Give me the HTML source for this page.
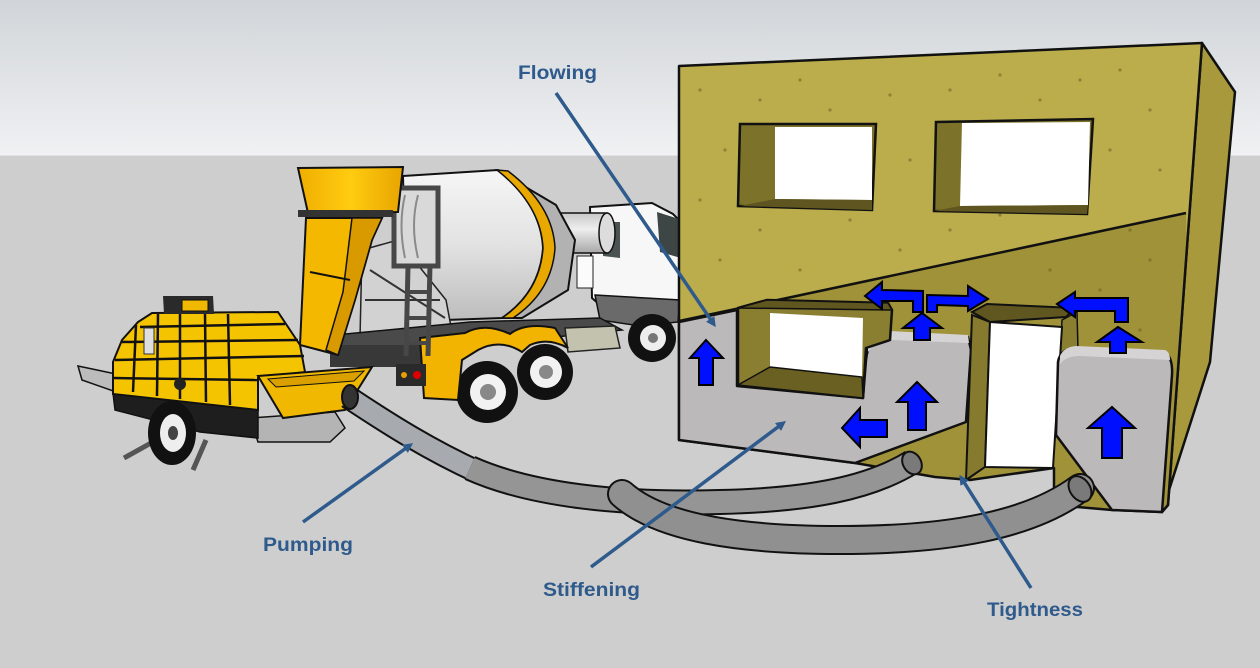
<!DOCTYPE html>
<html><head><meta charset="utf-8"><style>
html,body{margin:0;padding:0;background:#cecece;}
svg{display:block;}
text{font-family:"Liberation Sans",sans-serif;font-weight:bold;fill:#2f5a8c;font-size:19.5px;}
</style></head><body>
<svg width="1260" height="668" viewBox="0 0 1260 668" xmlns="http://www.w3.org/2000/svg">
<defs>
 <linearGradient id="sky" x1="0" y1="0" x2="0" y2="1">
  <stop offset="0" stop-color="#d1d5d9"/><stop offset="1" stop-color="#f0f1f3"/>
 </linearGradient>
 <linearGradient id="gold" x1="0" y1="0" x2="1" y2="0">
  <stop offset="0" stop-color="#f0ae00"/><stop offset="0.5" stop-color="#ffcc10"/><stop offset="1" stop-color="#e8a400"/>
 </linearGradient>
 <linearGradient id="drum" x1="0" y1="0" x2="0" y2="1">
  <stop offset="0" stop-color="#f6f6f6"/><stop offset="0.5" stop-color="#e2e2e2"/><stop offset="1" stop-color="#bdbdbd"/>
 </linearGradient>
 <linearGradient id="cyl" x1="0" y1="0" x2="0" y2="1">
  <stop offset="0" stop-color="#c8c8c8"/><stop offset="0.4" stop-color="#eeeeee"/><stop offset="1" stop-color="#a8a8a8"/>
 </linearGradient>
 <clipPath id="front">
  <polygon points="679,66 1202,43 1168,505 1162,512 1112,510 1054,505 1054,468 970,480 935,477 855,463 679,440"/>
 </clipPath>
 <marker id="ah" markerWidth="10" markerHeight="10" refX="5" refY="5" orient="auto" markerUnits="userSpaceOnUse" viewBox="0 0 10 10">
  <path d="M0,0 L10,5 L0,10 Z" fill="#2f5a8c"/>
 </marker>
</defs>

<!-- background -->
<rect x="0" y="0" width="1260" height="155" fill="url(#sky)"/>
<rect x="0" y="155" width="1260" height="513" fill="#cecece"/>
<line x1="0" y1="155.5" x2="1260" y2="155.5" stroke="#e2e2e2" stroke-width="1"/>

<!-- ===== TRUCK ===== -->
<!-- cab -->
<polygon points="590,207 652,203 673,214 681,222 681,300 600,305 592,298" fill="#f7f7f7" stroke="#111" stroke-width="2"/>
<polygon points="657,212 679,219 681,258 660,252" fill="#3d4545"/>
<polygon points="603,222 620,222 620,258 603,256" fill="#4a5252"/>
<polygon points="595,295 680,300 678,322 640,326 600,320" fill="#6a6a6a" stroke="#111" stroke-width="1.5"/>
<circle cx="652" cy="338" r="24" fill="#111"/>
<circle cx="653" cy="338" r="13" fill="#eeeeee"/>
<circle cx="653" cy="338" r="5" fill="#777"/>
<!-- cylinder tank -->
<rect x="557" y="213" width="50" height="40" fill="url(#cyl)" stroke="#111" stroke-width="1.5"/>
<ellipse cx="607" cy="233" rx="8" ry="20" fill="#dcdcdc" stroke="#111" stroke-width="1.5"/>
<rect x="577" y="256" width="16" height="32" fill="#fbfbfb" stroke="#222" stroke-width="1"/>
<!-- cone -->
<polygon points="500,172 556,205 575,240 568,290 522,318 495,318" fill="#b2b2b2" stroke="#111" stroke-width="2"/>
<!-- drum -->
<path d="M403,176 L498,170 Q541,205 543,248 Q540,292 502,318 L445,320 Q415,300 405,260 Z" fill="url(#drum)" stroke="#111" stroke-width="2"/>
<path d="M497,170 L508,171 Q553,205 555,248 Q552,292 513,318 L502,318 Q540,292 543,248 Q541,205 497,170 Z" fill="#e9a800" stroke="#111" stroke-width="1.5"/>
<!-- support structure -->
<polygon points="362,250 398,240 446,300 452,332 360,338" fill="#d2d2d2" stroke="#222" stroke-width="1.5"/>
<line x1="370" y1="270" x2="445" y2="318" stroke="#333" stroke-width="2"/>
<line x1="365" y1="300" x2="440" y2="300" stroke="#333" stroke-width="2"/>
<!-- chassis -->
<polygon points="335,335 470,322 600,318 622,330 470,346 400,352 335,354" fill="#4a4a4a" stroke="#111" stroke-width="1.5"/>
<rect x="330" y="345" width="92" height="22" fill="#383838"/>
<!-- fuel tank -->
<polygon points="565,328 615,326 620,348 568,352" fill="#c2c2ae" stroke="#222" stroke-width="1.5"/>
<!-- rear wheels -->
<circle cx="545" cy="372" r="28" fill="#111"/>
<circle cx="546" cy="372" r="16" fill="#f2f2f2"/>
<circle cx="546" cy="372" r="7" fill="#888"/>
<circle cx="487" cy="392" r="31" fill="#111"/>
<circle cx="488" cy="392" r="18" fill="#f2f2f2"/>
<circle cx="488" cy="392" r="8" fill="#888"/>
<!-- fenders -->
<path d="M420,338 L465,333 Q485,322 510,334 Q525,322 555,328 L568,348 Q548,337 530,345 L522,352 Q500,338 478,350 L462,360 L458,400 L424,398 Z" fill="#f2b400" stroke="#111" stroke-width="2"/>
<rect x="396" y="364" width="30" height="22" fill="#2a2a2a"/>
<circle cx="404" cy="375" r="3" fill="#e8a000"/>
<circle cx="417" cy="375" r="4" fill="#e00000"/>
<!-- ladder -->
<rect x="394" y="188" width="44" height="78" fill="#d9d9d9" stroke="#474747" stroke-width="5"/>
<path d="M405,195 Q398,225 405,258 M418,195 Q410,225 418,258" stroke="#8a8a8a" stroke-width="2" fill="none"/>
<line x1="408" y1="266" x2="406" y2="356" stroke="#474747" stroke-width="5"/>
<line x1="430" y1="264" x2="428" y2="356" stroke="#474747" stroke-width="5"/>
<line x1="407" y1="292" x2="429" y2="292" stroke="#474747" stroke-width="4"/>
<line x1="407" y1="318" x2="429" y2="318" stroke="#474747" stroke-width="4"/>
<line x1="406" y1="343" x2="428" y2="343" stroke="#474747" stroke-width="4"/>
<!-- funnel -->
<polygon points="298,168 403,167 398,212 308,213" fill="url(#gold)" stroke="#111" stroke-width="2"/>
<rect x="298" y="210" width="95" height="7" fill="#333"/>
<polygon points="306,218 382,218 372,240 355,300 338,355 300,345" fill="#f5b800" stroke="#111" stroke-width="2"/>
<polygon points="352,218 382,218 372,240 355,300 338,355 326,350 343,292" fill="#d99a00" stroke="#111" stroke-width="1.5"/>
<line x1="310" y1="272" x2="350" y2="280" stroke="#111" stroke-width="2"/>

<!-- ===== PUMP ===== -->
<polygon points="78,366 116,374 116,392 82,380" fill="#bcbcbc" stroke="#111" stroke-width="1.5"/>
<polygon points="250,418 335,412 345,428 330,442 258,442" fill="#b4b4b4" stroke="#111" stroke-width="1.5"/>
<line x1="160" y1="438" x2="124" y2="458" stroke="#555" stroke-width="5"/>
<line x1="206" y1="440" x2="193" y2="470" stroke="#555" stroke-width="5"/>
<polygon points="113,393 258,410 258,438 200,432 115,410" fill="#1e1e1e" stroke="#111" stroke-width="1.5"/>
<polygon points="113,394 113,362 122,340 138,322 152,313 278,312 300,345 305,372 258,378 258,410" fill="#f5c400" stroke="#111" stroke-width="2"/>
<g stroke="#111" stroke-width="2.5">
 <line x1="140" y1="327" x2="285" y2="324"/>
 <line x1="122" y1="342" x2="298" y2="340"/>
 <line x1="115" y1="360" x2="304" y2="356"/>
 <line x1="113" y1="378" x2="258" y2="380"/>
 <line x1="136" y1="325" x2="133" y2="392"/>
 <line x1="158" y1="314" x2="157" y2="396"/>
 <line x1="180" y1="314" x2="180" y2="399"/>
 <line x1="205" y1="314" x2="206" y2="402"/>
 <line x1="228" y1="314" x2="230" y2="405"/>
</g>
<rect x="144" y="328" width="10" height="26" fill="#dedede" stroke="#333" stroke-width="1"/>
<circle cx="180" cy="384" r="6" fill="#222"/>
<polygon points="163,296 213,296 214,314 164,314" fill="#2a2a2a"/>
<rect x="182" y="300" width="26" height="11" fill="#f0b800" stroke="#111" stroke-width="1"/>
<ellipse cx="172" cy="433" rx="24" ry="32" fill="#111"/>
<ellipse cx="173" cy="433" rx="13" ry="19" fill="#eeeeee"/>
<ellipse cx="173" cy="433" rx="5" ry="7" fill="#444"/>
<!-- pump hopper -->
<polygon points="258,376 372,367 345,410 283,418" fill="#f0b800" stroke="#111" stroke-width="2"/>
<polygon points="268,379 364,371 354,381 276,387" fill="#d9a000" stroke="#111" stroke-width="1"/>

<!-- ===== BUILDING ===== -->
<polygon points="1202,43 1235,92 1210,362 1162,512 1168,505" fill="#a7993c" stroke="#111" stroke-width="2.5" stroke-linejoin="round"/>
<polygon points="679,66 1202,43 1168,505 1162,512 1112,510 1054,505 1054,468 970,480 935,477 855,463 679,440" fill="#bbad4c"/>
<g clip-path="url(#front)">
 <polygon points="679,321 1186,213 1190,520 679,520" fill="#9f9238"/>
 <g fill="#6b5e20" opacity="0.55">
  <circle cx="700" cy="90" r="1.6"/><circle cx="725" cy="150" r="1.6"/><circle cx="760" cy="100" r="1.6"/>
  <circle cx="800" cy="80" r="1.6"/><circle cx="830" cy="110" r="1.6"/><circle cx="890" cy="95" r="1.6"/>
  <circle cx="910" cy="160" r="1.6"/><circle cx="950" cy="90" r="1.6"/><circle cx="1000" cy="75" r="1.6"/>
  <circle cx="1040" cy="100" r="1.6"/><circle cx="1080" cy="80" r="1.6"/><circle cx="1120" cy="70" r="1.6"/>
  <circle cx="1150" cy="110" r="1.6"/><circle cx="1110" cy="150" r="1.6"/><circle cx="1160" cy="170" r="1.6"/>
  <circle cx="700" cy="200" r="1.6"/><circle cx="720" cy="260" r="1.6"/><circle cx="760" cy="230" r="1.6"/>
  <circle cx="800" cy="270" r="1.6"/><circle cx="850" cy="220" r="1.6"/><circle cx="900" cy="250" r="1.6"/>
  <circle cx="950" cy="230" r="1.6"/><circle cx="1000" cy="215" r="1.6"/><circle cx="1050" cy="200" r="1.6"/>
  <circle cx="1130" cy="230" r="1.6"/><circle cx="1150" cy="260" r="1.6"/><circle cx="1100" cy="290" r="1.6"/>
  <circle cx="1050" cy="270" r="1.6"/><circle cx="1140" cy="330" r="1.6"/><circle cx="980" cy="300" r="1.6"/>
 </g>
 <line x1="679" y1="321" x2="1186" y2="213" stroke="#111" stroke-width="2.5"/>
</g>
<polygon points="679,66 1202,43 1168,505 1162,512 1112,510 1054,505 1054,468 970,480 935,477 855,463 679,440" fill="none" stroke="#111" stroke-width="2.5" stroke-linejoin="round"/>

<!-- upper windows -->
<polygon points="740,124 876,124 872,210 738,206" fill="#7d722a" stroke="#111" stroke-width="2.5"/>
<polygon points="775,127 872,127 872,200 775,199" fill="#ffffff"/>
<polygon points="775,199 872,200 872,210 740,206" fill="#5e5520"/>
<polygon points="936,122 1093,119 1087,214 934,211" fill="#7d722a" stroke="#111" stroke-width="2.5"/>
<polygon points="962,123 1090,122 1088,205 960,206" fill="#ffffff"/>
<polygon points="960,206 1088,205 1087,214 934,211" fill="#5e5520"/>

<!-- concrete left+middle -->
<path d="M679,322 L737,310 L737,386 L863,398 L866,360 Q868,336 890,333 L968,337 L971,350 L966,422 L855,463 L679,440 Z" fill="#bcb9bb" stroke="#111" stroke-width="2.5" stroke-linejoin="round"/>
<path d="M868,345 Q872,332 890,331 L968,335 L969,343 L892,340 Q876,341 868,352 Z" fill="#d6d3d4"/>
<!-- lower window box -->
<polygon points="738,308 767,300 888,303 892,310 890,340 866,348 863,398 738,385" fill="#8a7f30" stroke="#111" stroke-width="2.5" stroke-linejoin="round"/>
<polygon points="738,308 767,300 888,303 892,310" fill="#5f5620" stroke="#111" stroke-width="1.5"/>
<polygon points="770,313 863,318 862,377 770,367" fill="#ffffff"/>
<polygon points="770,367 862,377 863,398 738,385" fill="#6a6022" stroke="#111" stroke-width="1.5"/>

<!-- door -->
<polygon points="1062,320 1077,312 1078,350 1060,362" fill="#8a7f30" stroke="#111" stroke-width="1.5"/>
<polygon points="972,315 990,322 985,467 966,480" fill="#857a2e" stroke="#111" stroke-width="2"/>
<polygon points="990,322 1062,327 1053,468 985,467" fill="#ffffff" stroke="#111" stroke-width="2"/>
<polygon points="972,312 987,304 1075,308 1066,317 990,322" fill="#5f5620" stroke="#111" stroke-width="2"/>

<!-- concrete right -->
<path d="M1058,362 Q1060,349 1076,348 L1165,352 Q1173,358 1172,375 L1162,512 L1112,510 L1056,435 Z" fill="#bcb9bb" stroke="#111" stroke-width="2.5" stroke-linejoin="round"/>
<path d="M1060,356 Q1064,347 1076,346 L1165,350 Q1170,352 1170,360 L1080,356 Q1066,356 1060,364 Z" fill="#d6d3d4"/>

<!-- blue arrows -->
<g fill="#0010ff" stroke="#000" stroke-width="2" stroke-linejoin="miter">
 <polygon points="706,340 723,358 713,358 713,385 699,385 699,358 690,358"/>
 <polygon points="917,382 937,402 926,402 926,430 908,430 908,402 897,402"/>
 <polygon points="1112,407 1135,428 1122,428 1122,458 1102,458 1102,428 1088,428"/>
 <polygon points="842,428 860,408 860,420 887,420 887,437 860,437 860,447"/>
 <polygon points="922,313 942,328 930,328 930,340 914,340 914,328 903,328"/>
 <polygon points="1118,327 1142,342 1126,342 1126,353 1110,353 1110,342 1097,342"/>
 <polygon points="865,296 882,282 882,290 923,291 923,312 913,312 913,301 882,301 882,309"/>
 <polygon points="927,312 927,295 968,296 968,286 988,299 968,311 968,306 937,305 937,312"/>
 <polygon points="1057,304 1075,292 1075,298 1128,298 1128,322 1115,322 1115,311 1075,311 1075,317"/>
</g>

<!-- ===== HOSES ===== -->
<path d="M348,397 C390,425 430,450 478,472" fill="none" stroke="#111" stroke-width="24"/>
<path d="M348,397 C390,425 430,450 478,472" fill="none" stroke="#a7abb0" stroke-width="20"/>
<ellipse cx="350" cy="397" rx="8" ry="12" fill="#333" stroke="#111" stroke-width="2"/>
<path d="M470,468 C530,495 620,505 720,502 C810,500 870,488 912,462" fill="none" stroke="#111" stroke-width="26"/>
<path d="M470,468 C530,495 620,505 720,502 C810,500 870,488 912,462" fill="none" stroke="#959595" stroke-width="22"/>
<ellipse cx="912" cy="463" rx="9" ry="12" transform="rotate(-30 912 463)" fill="#7a7a7a" stroke="#111" stroke-width="2"/>
<path d="M622,494 C660,528 740,540 840,540 C950,540 1030,525 1080,488" fill="none" stroke="#111" stroke-width="30" stroke-linecap="round"/>
<path d="M622,494 C660,528 740,540 840,540 C950,540 1030,525 1080,488" fill="none" stroke="#909090" stroke-width="26" stroke-linecap="round"/>
<ellipse cx="1080" cy="489" rx="10" ry="14" transform="rotate(-35 1080 489)" fill="#7a7a7a" stroke="#111" stroke-width="2"/>

<!-- ===== LABELS & LEADERS ===== -->
<g stroke="#2f5a8c" stroke-width="3.5" fill="none">
 <line x1="556" y1="93" x2="713" y2="323" marker-end="url(#ah)"/>
 <line x1="303" y1="522" x2="409" y2="446" marker-end="url(#ah)"/>
 <line x1="591" y1="567" x2="782" y2="424" marker-end="url(#ah)"/>
 <line x1="1031" y1="588" x2="962" y2="479" marker-end="url(#ah)"/>
</g>
<text x="518" y="79" textLength="79" lengthAdjust="spacingAndGlyphs">Flowing</text>
<text x="263" y="551" textLength="90" lengthAdjust="spacingAndGlyphs">Pumping</text>
<text x="543" y="596" textLength="97" lengthAdjust="spacingAndGlyphs">Stiffening</text>
<text x="987" y="616" textLength="96" lengthAdjust="spacingAndGlyphs">Tightness</text>
</svg>
</body></html>
